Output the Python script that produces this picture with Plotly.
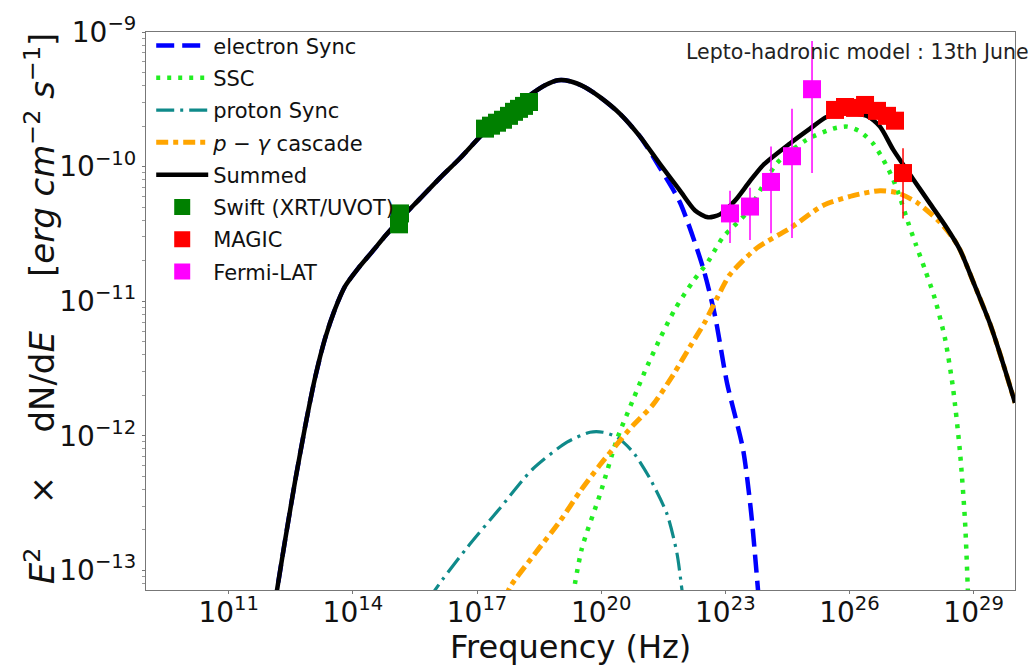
import numpy as np
import plotly.graph_objects as go

# ---------------- data (log10 of frequency [Hz] and of E^2 dN/dE [erg cm^-2 s^-1]) ----------------
sum_lognu = [12.0, 12.166, 12.359, 12.601, 12.842, 13.084, 13.326, 13.567, 13.809, 14.123, 14.462, 14.800,
             15.138, 15.622, 16.105, 16.588, 17.192, 17.797, 18.280, 18.642, 18.957, 19.247, 19.609, 19.972,
             20.455, 20.939, 21.422, 21.905, 22.268, 22.582, 22.872, 23.234, 23.590, 23.911, 24.563, 25.047, 25.458,
             25.941, 26.424, 26.738, 27.052, 27.536, 27.947, 28.357, 28.672, 28.986, 29.396, 29.710, 30.000]
sum_logflux = [-13.47, -13.147, -12.780, -12.341, -11.938, -11.571, -11.278, -11.059, -10.890, -10.758, -10.634,
               -10.509, -10.392, -10.238, -10.084, -9.938, -9.740, -9.586, -9.469, -9.396, -9.359, -9.366,
               -9.410, -9.484, -9.608, -9.777, -9.982, -10.179, -10.326, -10.377, -10.355, -10.253, -10.110,
               -9.990, -9.828, -9.718, -9.630, -9.601, -9.623, -9.703, -9.872, -10.092, -10.275, -10.458, -10.619,
               -10.853, -11.168, -11.462, -11.755]

esync_lognu = [12.0, 12.166, 12.359, 12.601, 12.842, 13.084, 13.326, 13.567, 13.809, 14.123, 14.462, 14.800,
               15.138, 15.622, 16.105, 16.588, 17.192, 17.797, 18.280, 18.642, 18.957, 19.247, 19.609, 19.972,
               20.455, 20.939, 21.422, 21.905, 22.461, 22.751, 23.041, 23.427, 23.620, 23.790, 23.886]
esync_logflux = [-13.47, -13.147, -12.780, -12.341, -11.938, -11.571, -11.278, -11.059, -10.890, -10.758, -10.634,
                 -10.509, -10.392, -10.238, -10.084, -9.938, -9.740, -9.586, -9.469, -9.396, -9.359, -9.366,
                 -9.410, -9.484, -9.608, -9.777, -10.011, -10.267, -10.751, -11.110, -11.608, -12.099, -12.560,
                 -13.147, -13.513]

ssc_lognu = [19.319, 19.537, 19.971, 20.382, 20.769, 21.059, 21.421, 21.784, 22.219, 22.581, 22.944, 23.524,
             24.249, 24.974, 25.602, 25.941, 26.255, 26.569, 26.811, 27.052, 27.245, 27.415, 27.608, 27.826,
             28.067, 28.309, 28.502, 28.671, 28.792, 28.865]
ssc_logflux = [-13.183, -12.832, -12.436, -12.026, -11.733, -11.520, -11.278, -11.059, -10.853, -10.707, -10.524,
               -10.341, -9.974, -9.799, -9.718, -9.703, -9.740, -9.828, -9.945, -10.092, -10.253, -10.414,
               -10.582, -10.766, -10.985, -11.278, -11.645, -12.121, -12.634, -13.183]

psync_lognu = [15.863, 15.984, 16.757, 17.555, 18.352, 19.174, 19.730, 20.044, 20.382, 20.769, 21.180, 21.591,
               21.832, 21.953, 22.001]
psync_logflux = [-13.220, -13.147, -12.832, -12.538, -12.245, -12.048, -11.974, -11.974, -12.011, -12.121,
                 -12.319, -12.582, -12.875, -13.147, -13.256]

casc_lognu = [17.676, 17.797, 18.401, 19.005, 19.488, 19.972, 20.382, 20.769, 21.252, 21.736, 22.147, 22.509,
              22.823, 23.113, 23.766, 24.563, 25.360, 26.086, 26.738, 27.149, 27.632, 28.188, 28.502, 28.672,
              28.986, 29.396, 29.710, 30.000]
casc_logflux = [-13.220, -13.125, -12.875, -12.634, -12.414, -12.216, -12.062, -11.923, -11.769, -11.549,
                -11.337, -11.154, -10.963, -10.802, -10.604, -10.458, -10.289, -10.216, -10.179, -10.194,
                -10.267, -10.414, -10.531, -10.619, -10.853, -11.168, -11.462, -11.755]

swift_lognu = [15.138, 15.114, 17.192, 17.337, 17.482, 17.627, 17.772, 17.893, 18.014, 18.135, 18.256]
swift_logflux = [-10.348, -10.429, -9.718, -9.696, -9.674, -9.652, -9.623, -9.593, -9.571, -9.549, -9.520]

magic_lognu = [25.651, 25.892, 26.134, 26.376, 26.665, 26.907, 27.100, 27.294]
magic_logflux = [-9.579, -9.557, -9.564, -9.542, -9.586, -9.623, -9.659, -10.048]
magic_loghi = [-9.579, -9.557, -9.564, -9.542, -9.586, -9.623, -9.659, -9.864]
magic_loglo = [-9.579, -9.557, -9.564, -9.542, -9.586, -9.623, -9.659, -10.385]

fermi_lognu = [23.113, 23.596, 24.104, 24.611, 25.095]
fermi_logflux = [-10.348, -10.297, -10.114, -9.923, -9.425]
fermi_loghi = [-10.179, -10.158, -9.850, -9.571, -9.066]
fermi_loglo = [-10.568, -10.546, -10.495, -10.531, -10.048]

xtick_exp = [11, 14, 17, 20, 23, 26, 29]
ytick_exp = [-9, -10, -11, -12, -13]

# ---------------------------------------------------------------------------------------------------
def p(a):
    return 10.0 ** np.array(a)

FONT = "DejaVu Sans"
SM = 0.7
fig = go.Figure()

def line_trace(xs, ys, name, **line):
    return go.Scatter(x=p(xs), y=p(ys), mode="lines", name=name, legendgroup=name,
                      line=dict(shape="spline", smoothing=SM, **line))

fig.add_trace(line_trace(esync_lognu, esync_logflux, "electron Sync", color="#0000ff", width=4.5, dash="18px,8px"))
fig.add_trace(line_trace(ssc_lognu, ssc_logflux, "SSC", color="#22ee22", width=4.5, dash="4px,7px"))
fig.add_trace(line_trace(psync_lognu, psync_logflux, "proton Sync", color="#0f8a8a", width=3.2,
                         dash="18px,6px,3px,6px"))
fig.add_trace(line_trace(casc_lognu, casc_logflux, "<i>p</i> − <i>γ</i> cascade", color="#ffa500", width=5,
                         dash="12px,5px,5px,5px"))
fig.add_trace(line_trace(sum_lognu, sum_logflux, "Summed", color="#000000", width=4.5))

fig.add_trace(go.Scatter(x=p(swift_lognu), y=p(swift_logflux), mode="markers", name="Swift (XRT/UVOT)",
                         legendgroup="swift", marker=dict(symbol="square", size=18, color="#008000")))

mc = p(magic_logflux)
fig.add_trace(go.Scatter(x=p(magic_lognu), y=mc, mode="markers", name="MAGIC", legendgroup="magic",
                         marker=dict(symbol="square", size=18, color="#ff0000"),
                         error_y=dict(type="data", symmetric=False, array=p(magic_loghi) - mc,
                                      arrayminus=mc - p(magic_loglo), color="#ff0000", thickness=1.5, width=0)))
fc = p(fermi_logflux)
fig.add_trace(go.Scatter(x=p(fermi_lognu), y=fc, mode="markers", name="Fermi-LAT", legendgroup="fermi",
                         marker=dict(symbol="square", size=18, color="#ff00ff"),
                         error_y=dict(type="data", symmetric=False, array=p(fermi_loghi) - fc,
                                      arrayminus=fc - p(fermi_loglo), color="#ff00ff", thickness=1.5, width=0)))

axis_common = dict(type="log", showgrid=False, zeroline=False, showline=True, linecolor="#777777",
                   linewidth=1.2, mirror=True, ticks="outside", ticklen=3, tickcolor="#777777",
                   tickfont=dict(family=FONT, size=28, color="#111111"))

fig.update_xaxes(range=[9, 30], tickvals=[10.0 ** k for k in xtick_exp],
                 ticktext=[f"10<sup>{k}</sup>" for k in xtick_exp], ticklabelstandoff=-6, **axis_common)
minor_y = [m * 10.0 ** e for e in range(-14, -9) for m in range(2, 10)]
fig.update_yaxes(range=[-13.146, -9.0], tickvals=[10.0 ** k for k in ytick_exp],
                 ticktext=[f"10<sup>−{abs(k)}</sup>" for k in ytick_exp],
                 minor=dict(tickvals=minor_y, ticks="outside", ticklen=2.5, tickcolor="#999999"),
                 **axis_common)

NB = "\u00a0"
fig.add_annotation(text="Frequency (Hz)", xref="paper", yref="paper", x=0.488, y=-0.102,
                   xanchor="center", yanchor="middle", showarrow=False,
                   font=dict(family=FONT, size=32, color="#111111"))
ytitle = ("<i>E</i><sup>2</sup>" + NB * 4 + "×" + NB * 4 + "dN/d<i>E</i>" + NB * 5 +
          "[<i>erg" + NB + "cm</i><sup>−2</sup>" + NB + "<i>s</i><sup>−1</sup>]")
fig.add_annotation(text=ytitle, xref="paper", yref="paper", x=-0.122, y=0.505, textangle=-90,
                   xanchor="center", yanchor="middle", showarrow=False,
                   font=dict(family=FONT, size=34, color="#111111"))
fig.add_annotation(text="Lepto-hadronic model : 13th June", xref="paper", yref="paper",
                   x=0.619, y=0.965, xanchor="left", yanchor="middle", showarrow=False,
                   font=dict(family=FONT, size=20.5, color="#222222"))

fig.update_layout(width=1032, height=668, margin=dict(l=146, r=17, t=24, b=78),
                  paper_bgcolor="white", plot_bgcolor="white",
                  font=dict(family=FONT, color="#111111"),
                  legend=dict(x=0.006, y=1.012, xanchor="left", yanchor="top", bgcolor="rgba(0,0,0,0)",
                              borderwidth=0, font=dict(family=FONT, size=21, color="#111111"),
                              itemwidth=52, tracegroupgap=2),
                  showlegend=True)

fig.write_html("out.html")
